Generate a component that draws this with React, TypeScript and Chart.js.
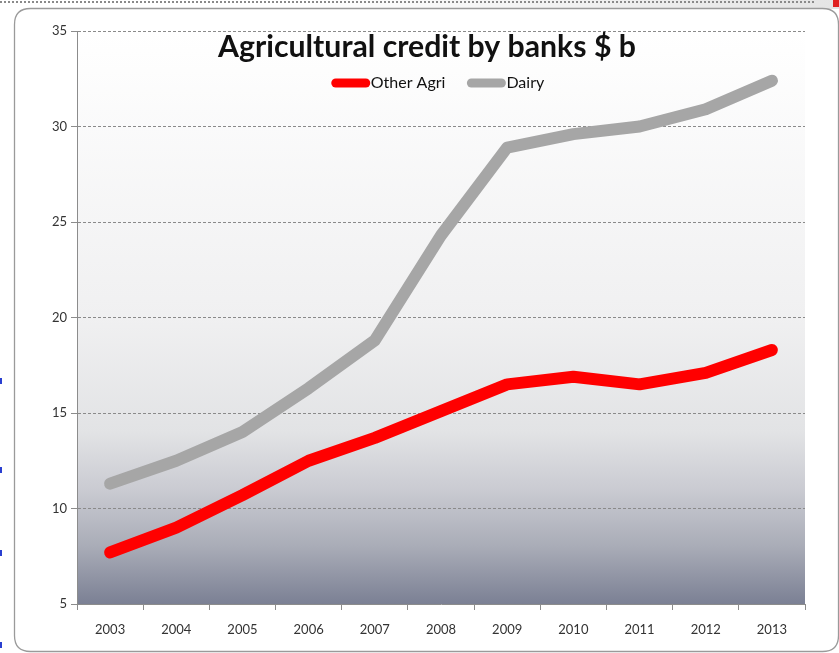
import React, { useEffect, useRef } from "react";
import { Chart, registerables } from "chart.js";

Chart.register(...registerables);

const years = ["2003", "2004", "2005", "2006", "2007", "2008", "2009", "2010", "2011", "2012", "2013"];
const otherAgri = [7.7, 9.0, 10.7, 12.5, 13.7, 15.1, 16.5, 16.9, 16.5, 17.1, 18.3];
const dairy = [11.3, 12.5, 14.0, 16.3, 18.8, 24.3, 28.9, 29.6, 30.0, 30.9, 32.4];
const titleText = "Agricultural credit by banks $ b";
const FONT = "Lato, 'Open Sans', sans-serif";

function roundRect(ctx: CanvasRenderingContext2D, x: number, y: number, w: number, h: number, r: number) {
  ctx.beginPath();
  ctx.moveTo(x + r, y);
  ctx.lineTo(x + w - r, y);
  ctx.quadraticCurveTo(x + w, y, x + w, y + r);
  ctx.lineTo(x + w, y + h - r);
  ctx.quadraticCurveTo(x + w, y + h, x + w - r, y + h);
  ctx.lineTo(x + r, y + h);
  ctx.quadraticCurveTo(x, y + h, x, y + h - r);
  ctx.lineTo(x, y + r);
  ctx.quadraticCurveTo(x, y, x + r, y);
  ctx.closePath();
}

const framePlugin = {
  id: "frame",
  beforeDraw(chart: any) {
    const { ctx, chartArea } = chart;
    const W = chart.width;
    ctx.save();
    ctx.fillStyle = "#ffffff";
    ctx.fillRect(0, 0, W, chart.height);
    const g0 = ctx.createLinearGradient(0, 0, W, 0);
    g0.addColorStop(0, "#ffffff");
    g0.addColorStop(0.35, "#ffffff");
    g0.addColorStop(1, "#e4e4e4");
    ctx.fillStyle = g0;
    ctx.fillRect(0, 0, W, 9);
    ctx.strokeStyle = "#8a8a8a";
    ctx.lineWidth = 2;
    ctx.setLineDash([2, 2]);
    ctx.beginPath();
    ctx.moveTo(0, 2);
    ctx.lineTo(816, 2);
    ctx.stroke();
    ctx.setLineDash([]);
    ctx.fillStyle = "#e02020";
    ctx.fillRect(833, 0, 6, 7);
    ctx.fillStyle = "#2a3fd0";
    [381, 470, 553, 645].forEach((y) => ctx.fillRect(0, y - 3, 2, 6));
    roundRect(ctx, 14.5, 8.5, 824, 643, 16);
    ctx.fillStyle = "#ffffff";
    ctx.fill();
    ctx.strokeStyle = "#9a9a9a";
    ctx.lineWidth = 1.3;
    ctx.stroke();
    const { left, top, right, bottom } = chartArea;
    const g = ctx.createLinearGradient(0, top, 0, bottom);
    g.addColorStop(0, "#ffffff");
    g.addColorStop(0.5, "#f0f0f1");
    g.addColorStop(0.7, "#e2e3e5");
    g.addColorStop(0.8, "#cacbd2");
    g.addColorStop(0.9, "#a9acb7");
    g.addColorStop(1, "#7b8094");
    ctx.fillStyle = g;
    ctx.fillRect(left, top, right - left, bottom - top);
    ctx.restore();
  },
  afterDraw(chart: any) {
    const { ctx } = chart;
    ctx.save();
    let size = 27;
    ctx.font = `bold ${size}px ${FONT}`;
    const w = ctx.measureText(titleText).width;
    size = size * (418 / w);
    ctx.font = `bold ${size}px ${FONT}`;
    ctx.fillStyle = "#111111";
    ctx.textAlign = "center";
    ctx.textBaseline = "middle";
    ctx.fillText(titleText, 427, 47);
    ctx.font = `16px ${FONT}`;
    ctx.textAlign = "left";
    const items = chart.data.datasets.map((d: any) => ({ label: d.label, color: d.borderColor }));
    const lineLen = 36;
    const gap = 3;
    const spacing = 22;
    let total = 0;
    items.forEach((it: any, i: number) => {
      total += lineLen + gap + ctx.measureText(it.label).width + (i < items.length - 1 ? spacing : 0);
    });
    let x = 438 - total / 2;
    const y = 83;
    items.forEach((it: any) => {
      ctx.strokeStyle = it.color;
      ctx.lineWidth = 9;
      ctx.lineCap = "round";
      ctx.beginPath();
      ctx.moveTo(x + 4, y);
      ctx.lineTo(x + lineLen - 2, y);
      ctx.stroke();
      ctx.fillStyle = "#111111";
      ctx.fillText(it.label, x + lineLen + gap, y);
      x += lineLen + gap + ctx.measureText(it.label).width + spacing;
    });
    ctx.restore();
  },
};

export default function App() {
  const ref = useRef<HTMLCanvasElement>(null);
  useEffect(() => {
    if (!ref.current) return;
    const chart = new Chart(ref.current, {
      type: "line",
      data: {
        labels: years,
        datasets: [
          {
            label: "Other Agri",
            data: otherAgri,
            borderColor: "#ff0000",
            backgroundColor: "#ff0000",
            borderWidth: 12,
            borderCapStyle: "round",
            borderJoinStyle: "round",
            pointRadius: 0,
            tension: 0,
          },
          {
            label: "Dairy",
            data: dairy,
            borderColor: "#a6a6a6",
            backgroundColor: "#a6a6a6",
            borderWidth: 12,
            borderCapStyle: "round",
            borderJoinStyle: "round",
            pointRadius: 0,
            tension: 0,
          },
        ],
      },
      options: {
        responsive: false,
        animation: false,
        layout: { padding: { left: 15, top: 31, right: 34, bottom: 0 } },
        plugins: {
          legend: { display: false },
          title: { display: false },
          tooltip: { enabled: false },
        },
        scales: {
          x: {
            offset: true,
            grid: {
              offset: true,
              drawOnChartArea: false,
              drawTicks: true,
              tickLength: 6,
              color: "#8c8c8c",
            },
            border: { display: true, color: "#8c8c8c", width: 1 },
            ticks: {
              color: "#333333",
              font: { family: FONT, size: 13 },
              padding: 12,
              maxRotation: 0,
            },
            afterFit: (s: any) => {
              s.height = 49;
            },
          },
          y: {
            min: 5,
            max: 35,
            ticks: {
              stepSize: 5,
              color: "#333333",
              font: { family: FONT, size: 13 },
              padding: 4,
            },
            grid: {
              color: "#8a8a8a",
              tickLength: 6,
              tickColor: "#8c8c8c",
              tickBorderDash: [],
            },
            border: { display: true, color: "#8c8c8c", width: 1, dash: [3, 2] },
            afterFit: (s: any) => {
              s.width = 62;
            },
          },
        },
      },
      plugins: [framePlugin],
    });
    return () => chart.destroy();
  }, []);
  return (
    <div style={{ position: "absolute", left: 0, top: 0, width: 839, height: 653 }}>
      <canvas ref={ref} width={839} height={653} style={{ display: "block" }} />
    </div>
  );
}
